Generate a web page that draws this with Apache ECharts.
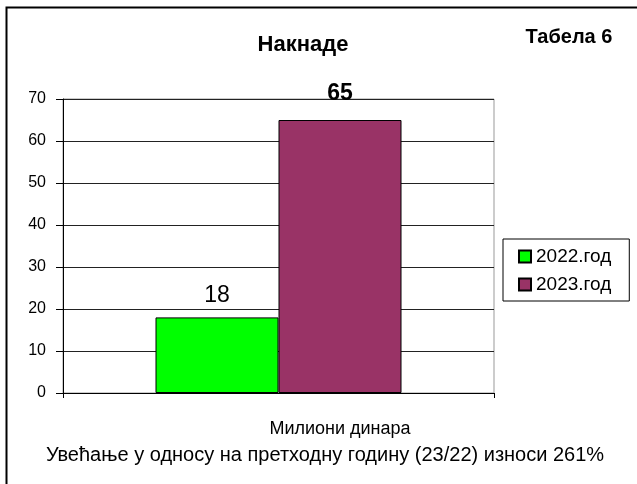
<!DOCTYPE html>
<html>
<head>
<meta charset="utf-8">
<script src="https://cdn.jsdelivr.net/npm/echarts@6/dist/echarts.min.js"></script>
<style>
  html, body { margin: 0; padding: 0; background: #fff; }
  #main { width: 637px; height: 484px; }
</style>
</head>
<body>
<div id="main"></div>
<script>
var categories = ['Милиони динара'];
var years = ['2022.год', '2023.год'];
var values2022 = [18];
var values2023 = [65];
var yTicks = [0, 10, 20, 30, 40, 50, 60, 70];

var font = 'Liberation Sans, Arial, sans-serif';

var option = {
	backgroundColor: '#fff',
	animation: false,
	title: [{
		text: 'Накнаде',
		left: 298, top: 29, textAlign: 'center',
		textStyle: { fontFamily: font, fontSize: 22, fontWeight: 'bold', color: '#000' }
	}, {
		text: 'Табела 6',
		left: 564, top: 22, textAlign: 'center',
		textStyle: { fontFamily: font, fontSize: 20, fontWeight: 'bold', color: '#000' }
	}, {
		text: categories[0],
		left: 335, top: 415, textAlign: 'center',
		textStyle: { fontFamily: font, fontSize: 18, fontWeight: 'normal', color: '#000' }
	}, {
		text: 'Увећање у односу на претходну годину (23/22) износи 261%',
		left: 320, top: 440, textAlign: 'center',
		textStyle: { fontFamily: font, fontSize: 20, fontWeight: 'normal', color: '#000' }
	}],
	graphic: [{
		type: 'rect',
		shape: { x: 6.5, y: 7.5, width: 640, height: 490 },
		style: { fill: null, stroke: '#000', lineWidth: 2 },
		z: 100
	}],
	legend: {
		orient: 'vertical',
		left: 503, top: 239,
		padding: [8, 18, 7, 15],
		itemGap: 9,
		itemWidth: 12, itemHeight: 12,
		icon: 'rect',
		borderColor: '#000', borderWidth: 1,
		textStyle: { fontFamily: font, fontSize: 19, color: '#000' },
		data: years
	},
	grid: { left: 63, right: 143, top: 99, bottom: 91, show: true, borderColor: '#999', borderWidth: 1 },
	xAxis: {
		type: 'category',
		data: categories,
		axisLine: { lineStyle: { color: '#000', width: 1 } },
		axisTick: { show: true, length: 5, lineStyle: { color: '#000' } },
		axisLabel: { show: false }
	},
	yAxis: {
		type: 'value',
		min: yTicks[0], max: yTicks[yTicks.length - 1], interval: 10,
		axisLine: { show: true, lineStyle: { color: '#000', width: 1 } },
		axisTick: { show: true, length: 7, lineStyle: { color: '#000' } },
		axisLabel: { fontFamily: font, fontSize: 16, color: '#000', margin: 17 },
		splitLine: { lineStyle: { color: '#222', width: 1 } }
	},
	series: [{
		name: years[0],
		type: 'bar',
		barWidth: 123,
		barGap: '0%',
		data: values2022,
		itemStyle: { color: '#00ff00', borderColor: '#000', borderWidth: 1 },
		label: { show: true, position: 'top', distance: 10, fontFamily: font, fontSize: 23, color: '#000' }
	}, {
		name: years[1],
		type: 'bar',
		barWidth: 123,
		barGap: '0%',
		data: values2023,
		itemStyle: { color: '#993366', borderColor: '#000', borderWidth: 1 },
		label: { show: true, position: 'top', distance: 15, fontFamily: font, fontSize: 23, fontWeight: 'bold', color: '#000' }
	}]
};

var my = echarts.init(document.getElementById('main'));
my.setOption(option);
</script>
</body>
</html>
